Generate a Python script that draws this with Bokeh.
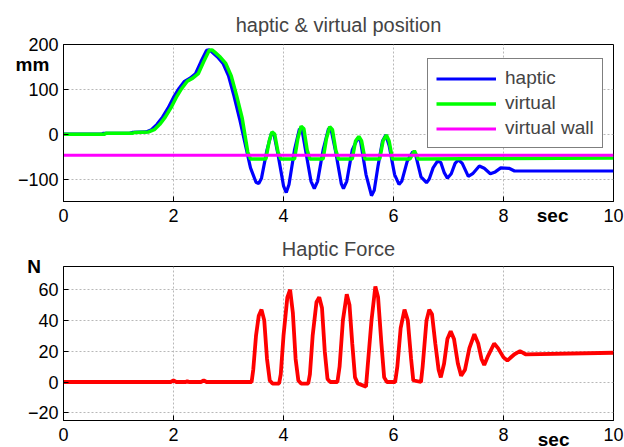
from bokeh.plotting import figure
from bokeh.models import Range1d, FixedTicker, Legend, LegendItem, Title
from bokeh.layouts import column
from bokeh.embed import file_html
from bokeh.resources import INLINE

# ---------------- data ----------------
x_ticks = [0, 2, 4, 6, 8, 10]
pos_ticks = [-100, 0, 100, 200]
force_ticks = [-20, 0, 20, 40, 60]

haptic_t = [0, 0.7, 0.72, 1.2, 1.25, 1.5, 1.6, 1.7, 1.8, 1.9, 2.0, 2.1, 2.2, 2.3, 2.4,
            2.5, 2.6, 2.65, 2.7, 2.8, 2.9, 3.0, 3.1, 3.2, 3.3, 3.4, 3.5, 3.55, 3.6, 3.7,
            3.78, 3.83, 3.9, 4.0, 4.05, 4.1, 4.2, 4.29, 4.34, 4.4, 4.5, 4.56, 4.62, 4.72,
            4.82, 4.87, 4.95, 5.05, 5.09, 5.15, 5.25, 5.35, 5.4, 5.5, 5.6, 5.65, 5.72, 5.8,
            5.86, 5.92, 6.02, 6.1, 6.15, 6.25, 6.35, 6.4, 6.5, 6.6, 6.65, 6.72, 6.8, 6.86,
            6.92, 6.98, 7.05, 7.12, 7.18, 7.25, 7.36, 7.44, 7.56, 7.65, 7.76, 7.85, 7.95,
            8.1, 8.2, 10]
haptic_mm = [0, 0, 2, 2, 4, 5, 10, 22, 38, 58, 82, 102, 118, 125, 135,
             162, 187, 188, 183, 172, 158, 130, 85, 35, -20, -75, -107, -110, -98, -35,
             2, -2, -45, -115, -130, -112, -35, 12, 8, -35, -105, -121, -105, -35,
             13, 8, -40, -110, -121, -105, -35, -9, -15, -90, -137, -125, -70, -15,
             -2, -25, -90, -112, -105, -60, -39, -45, -95, -108, -100, -75, -60, -63,
             -85, -98, -88, -65, -57, -65, -94, -88, -71, -76, -88, -84, -75,
             -76, -82, -82]

virtual_t = [0, 0.75, 0.77, 1.25, 1.3, 1.55, 1.65, 1.75, 1.85, 1.95, 2.05, 2.15, 2.25,
             2.35, 2.45, 2.55, 2.65, 2.7, 2.75, 2.85, 2.95, 3.05, 3.15, 3.25, 3.35, 3.4,
             3.68, 3.74, 3.79, 3.84, 3.9, 3.95, 4.2, 4.26, 4.32, 4.37, 4.43, 4.48, 4.72,
             4.78, 4.84, 4.89, 4.95, 5.0, 5.25, 5.31, 5.37, 5.42, 5.48, 5.75, 5.81, 5.87,
             5.92, 5.98, 6.3, 6.38, 6.45, 10]
virtual_mm = [0, 0, 2, 2, 4, 5, 10, 22, 38, 58, 82, 102, 118,
              125, 135, 162, 187, 188, 183, 172, 158, 130, 85, 35, -40, -55,
              -55, -15, 5, 0, -40, -55, -55, -10, 18, 12, -35, -55, -55,
              -10, 17, 10, -35, -55, -55, -15, -5, -15, -55, -55, -15, -2,
              -15, -55, -55, -37, -55, -53]

wall_t = [0, 10]
wall_mm = [-47, -47]

force_t = [0, 1.95, 2.0, 2.05, 2.22, 2.25, 2.28, 2.5, 2.55, 2.6, 3.42, 3.45, 3.5, 3.55,
           3.6, 3.65, 3.7, 3.75, 3.8, 3.92, 3.95, 4.0, 4.07, 4.12, 4.17, 4.22, 4.27, 4.32,
           4.45, 4.48, 4.53, 4.6, 4.65, 4.7, 4.75, 4.8, 4.85, 4.98, 5.02, 5.08, 5.15, 5.2,
           5.25, 5.3, 5.35, 5.5, 5.53, 5.6, 5.67, 5.72, 5.78, 5.83, 5.88, 6.03, 6.07, 6.13,
           6.2, 6.26, 6.32, 6.36, 6.5, 6.53, 6.6, 6.65, 6.7, 6.76, 6.82, 6.86, 6.92, 6.98,
           7.04, 7.1, 7.17, 7.23, 7.3, 7.38, 7.47, 7.54, 7.6, 7.65, 7.72, 7.83, 7.9, 8.0,
           8.07, 8.2, 8.3, 8.4, 10]
force_n = [0, 0, 1, 0, 0, 0.5, 0, 0, 1, 0, 0, 8, 30, 43,
           47, 40, 15, 1, -1, -1, 5, 30, 55, 60, 45, 15, 1, -1,
           -1, 5, 30, 52, 55, 48, 20, 2, 0, 0, 10, 40, 57, 50,
           25, 3, -1, -3, 10, 40, 62, 55, 25, 3, 0, 0, 10, 35,
           47, 40, 15, 1, 0, 10, 40, 47, 44, 25, 8, 3, 12, 28,
           33, 28, 12, 4, 8, 22, 31, 25, 15, 11, 17, 25, 22, 16,
           14, 18, 20, 18, 19]

assert len(haptic_t) == len(haptic_mm)
assert len(virtual_t) == len(virtual_mm)
assert len(force_t) == len(force_n)

FONT = "Liberation Sans"


def style(p, yticks):
    p.title.text_font = FONT
    p.title.text_font_size = "20px"
    p.title.text_font_style = "normal"
    p.title.align = "center"
    p.outline_line_color = "black"
    p.outline_line_width = 1
    p.outline_line_alpha = 1
    for ax in p.axis:
        ax.major_label_text_font = FONT
        ax.major_label_text_font_size = "18px"
        ax.major_label_text_color = "black"
        ax.major_tick_in = 5
        ax.major_tick_out = 0
        ax.minor_tick_line_color = None
        ax.axis_line_color = "black"
        ax.major_tick_line_color = "black"
        ax.major_label_standoff = 5
    p.xaxis.major_label_standoff = 7
    p.xaxis.ticker = FixedTicker(ticks=x_ticks)
    p.yaxis.ticker = FixedTicker(ticks=yticks)
    p.xgrid.ticker = FixedTicker(ticks=x_ticks)
    p.ygrid.ticker = FixedTicker(ticks=yticks)
    for g in (p.xgrid, p.ygrid):
        g.grid_line_color = "#b8b8b8"
        g.grid_line_dash = "2 2"
        g.grid_line_width = 1


def bold_title(text, align, offset, standoff, valign="bottom"):
    return Title(text=text, align=align, offset=offset, standoff=standoff,
                 vertical_align=valign,
                 text_font=FONT, text_font_size="19px", text_font_style="bold",
                 text_color="black")


# ---------------- top figure ----------------
p1 = figure(width=624, height=228, x_range=Range1d(0, 10), y_range=Range1d(-150, 200),
            output_backend="svg", toolbar_location=None, title="haptic & virtual position",
            min_border_left=63, min_border_right=11, min_border_top=44, min_border_bottom=27)
style(p1, pos_ticks)
p1.title.standoff = 18

r_h = p1.line(haptic_t, haptic_mm, line_color="#0000ff", line_width=3.2)
r_v = p1.line(virtual_t, virtual_mm, line_color="#00ff00", line_width=3.5)
r_w = p1.line(wall_t, wall_mm, line_color="#ff00ff", line_width=3)

legend = Legend(items=[LegendItem(label="haptic", renderers=[r_h]),
                       LegendItem(label="virtual", renderers=[r_v]),
                       LegendItem(label="virtual wall", renderers=[r_w])],
                location=(364, 53))
legend.label_text_font = FONT
legend.label_text_font_size = "19px"
legend.glyph_width = 60
legend.glyph_height = 21
legend.label_height = 21
legend.label_standoff = 9
legend.padding = 8
legend.spacing = 3
legend.margin = 0
legend.border_line_color = "black"
legend.border_line_width = 1
legend.background_fill_color = "white"
legend.background_fill_alpha = 1
p1.add_layout(legend)

p1.add_layout(bold_title("mm", "left", -48, -60), "above")
p1.add_layout(bold_title("sec", "right", 45, -40, "top"), "below")

# ---------------- bottom figure ----------------
p2 = figure(width=624, height=219, x_range=Range1d(0, 10), y_range=Range1d(-25, 75),
            output_backend="svg", toolbar_location=None, title="Haptic Force",
            min_border_left=63, min_border_right=11, min_border_top=38, min_border_bottom=27)
style(p2, force_ticks)
p2.title.standoff = 14
p2.line(force_t, force_n, line_color="#ff0000", line_width=3.8)

p2.yaxis.axis_label = "N"
p2.yaxis.axis_label_orientation = "horizontal"
p2.yaxis.axis_label_align = "end"
p2.yaxis.axis_label_standoff = -16
p2.yaxis.axis_label_text_font = FONT
p2.yaxis.axis_label_text_font_size = "19px"
p2.yaxis.axis_label_text_font_style = "bold"
p2.yaxis.axis_label_text_color = "black"
p2.add_layout(bold_title("sec", "right", 44, -30, "top"), "below")

layout = column(p1, p2, spacing=0)
open("out.html", "w").write(file_html(layout, INLINE))
